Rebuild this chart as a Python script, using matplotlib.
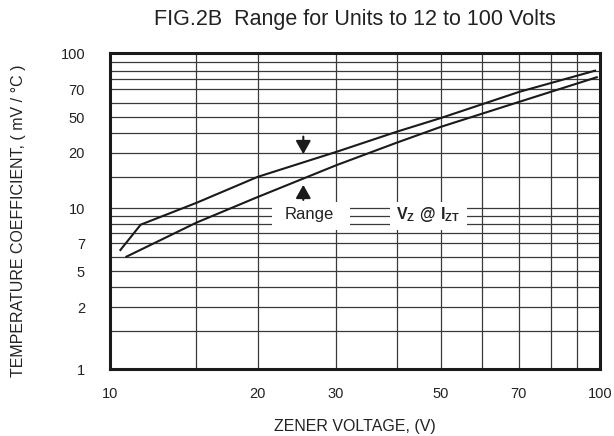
import matplotlib
matplotlib.use("Agg")
import matplotlib.pyplot as plt
from matplotlib.patches import Rectangle

plt.rcParams["font.family"] = ["Liberation Sans", "DejaVu Sans"]
plt.rcParams["mathtext.fontset"] = "custom"
plt.rcParams["mathtext.rm"] = "Liberation Sans"
plt.rcParams["mathtext.bf"] = "Liberation Sans:bold"

# curve data (log-log)
upper_v = [10.5, 11.55, 15.0, 20.0, 29.0, 38.5, 47.3, 68.3, 97.7]
upper_tc = [5.69, 8.23, 11.3, 16.5, 23.8, 31.9, 38.9, 56.9, 77.6]
lower_v = [10.8, 15.0, 20.0, 29.0, 38.5, 47.3, 68.3, 98.5]
lower_tc = [5.16, 8.47, 12.3, 19.6, 27.2, 34.2, 49.2, 70.5]

# axis ticks and grid as drawn on the original sheet
x_ticks = [10, 20, 28.9, 47.3, 68.3, 100]
x_labels = ["10", "20", "30", "50", "70", "100"]
x_grid = [15.0, 20.0, 28.9, 38.5, 47.3, 57.5, 68.3, 79.6, 89.6]
y_ticks = [1, 2.47, 4.17, 6.27, 10.45, 23.5, 39.3, 59.2, 100]
y_labels = ["1", "2", "5", "7", "10", "20", "50", "70", "100"]
y_grid = [1.75, 2.47, 3.30, 4.17, 5.12, 6.27, 7.32, 8.27, 9.34, 10.45,
          16.55, 23.5, 31.2, 39.3, 48.3, 59.2, 68.7, 77.3, 87.7]

fig = plt.figure(figsize=(6.14, 4.36), dpi=100, facecolor="white")
ax = fig.add_axes([0.1792, 0.153, 0.798, 0.7248])
ax.set_xscale("log")
ax.set_yscale("log")
ax.set_xlim(10, 100)
ax.set_ylim(1, 100)

for gx in x_grid:
    ax.axvline(gx, color="#3a3a3a", lw=0.9, zorder=1)
for gy in y_grid:
    ax.axhline(gy, color="#3a3a3a", lw=0.9, zorder=1)

# white label boxes breaking the grid
ax.add_patch(Rectangle((0.330, 0.441), 0.160, 0.53 - 0.441, transform=ax.transAxes,
                       fc="white", ec="none", zorder=2))
ax.add_patch(Rectangle((0.571, 0.441), 0.157, 0.53 - 0.441, transform=ax.transAxes,
                       fc="white", ec="none", zorder=2))

ax.plot(upper_v, upper_tc, color="#1a1a1a", lw=1.5, zorder=3)
ax.plot(lower_v, lower_tc, color="#1a1a1a", lw=1.5, zorder=3)

arrow = dict(arrowstyle="-|>,head_length=0.8,head_width=0.45", color="#1a1a1a", lw=1.5, shrinkA=0, shrinkB=0)
ax.annotate("", xy=(24.8, 23.0), xytext=(24.8, 29.7), arrowprops=arrow, zorder=4)
ax.annotate("", xy=(24.8, 14.7), xytext=(24.8, 11.8), arrowprops=arrow, zorder=4)

ax.text(25.5, 9.48, "Range", fontsize=12, color="#222222", ha="center", va="center", zorder=4)
ax.text(44.6, 9.55, r"$\mathbf{V_Z\ @\ I_{ZT}}$", fontsize=11.5, color="#222222",
        ha="center", va="center", zorder=4)

ax.set_xticks(x_ticks)
ax.set_xticklabels(x_labels)
ax.set_yticks(y_ticks)
ax.set_yticklabels(y_labels)
ax.minorticks_off()
ax.tick_params(axis="both", length=0, labelsize=10.5, colors="#222222")
ax.tick_params(axis="y", pad=18)
ax.tick_params(axis="x", pad=13)

for spine in ax.spines.values():
    spine.set_linewidth(2.2)
    spine.set_color("#1a1a1a")
    spine.set_zorder(5)

ax.set_xlabel("ZENER VOLTAGE, (V)", fontsize=11.5, color="#222222", labelpad=13)
ax.set_ylabel("TEMPERATURE COEFFICIENT, ( mV / °C )", fontsize=11.5, color="#222222")
ax.yaxis.set_label_coords(-0.172, 0.47)
fig.text(0.578, 1 - 20 / 436, "FIG.2B  Range for Units to 12 to 100 Volts", fontsize=15.5,
         color="#222222", ha="center", va="center")

fig.savefig("out.png", dpi=100, facecolor="white")
plt.close(fig)
